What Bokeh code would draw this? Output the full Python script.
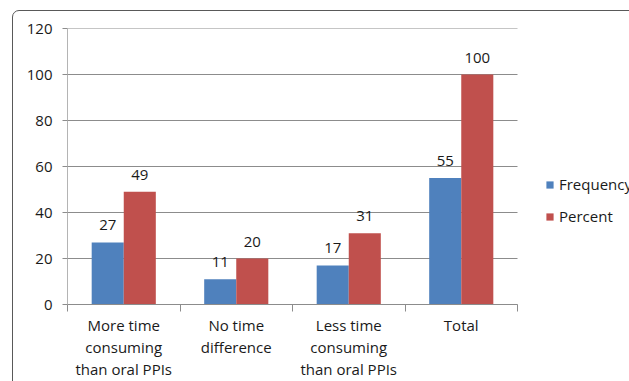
import numpy as np
from bokeh.plotting import figure
from bokeh.models import (ColumnDataSource, Range1d, FixedTicker, Legend, LegendItem,
                          InlineStyleSheet)
from bokeh.core.properties import value
from bokeh.embed import file_html
from bokeh.resources import INLINE

# Survey results: perceived administration time of IV vs oral PPIs
categories = ["More time\nconsuming\nthan oral PPIs", "No time\ndifference",
              "Less time\nconsuming\nthan oral PPIs", "Total"]
frequency = [27, 11, 17, 55]
percent = [49, 20, 31, 100]
y_ticks = [0, 20, 40, 60, 80, 100, 120]

FONT = "Open Sans"
TEXT_COLOR = "#1a1a1a"
BLUE = "#4F81BD"
RED = "#C0504D"
GRID = "#8c8c8c"
AXIS = "#b4b4b4"

# layout: the bar area is PLOT_W px wide; the frame continues to the right
# edge of the canvas so the legend can sit beside the bars
LEFT, TOP, BOTTOM = 67, 28, 77
W, H = 629, 381
PLOT_W = 450
FRAME_W = W - LEFT

n = len(categories)
centers = np.arange(n) + 0.5
bar_w = 0.285

src = ColumnDataSource(dict(
    xf=centers - bar_w / 2, xp=centers + bar_w / 2,
    freq=frequency, pct=percent,
    freq_txt=[str(v) for v in frequency], pct_txt=[str(v) for v in percent],
))

p = figure(width=W, height=H, output_backend="svg", toolbar_location=None,
           x_range=Range1d(0, n * FRAME_W / PLOT_W), y_range=Range1d(0, 120),
           min_border_left=LEFT, min_border_right=0, min_border_top=TOP,
           min_border_bottom=BOTTOM)
p.outline_line_color = None
p.background_fill_color = "white"
p.border_fill_color = "white"
p.xgrid.grid_line_color = None
p.ygrid.grid_line_color = None

# horizontal gridlines across the bar area only
p.segment(x0=[0] * len(y_ticks), x1=[n] * len(y_ticks), y0=y_ticks, y1=y_ticks,
          line_color=GRID, line_width=1)

rf = p.vbar(x="xf", top="freq", width=bar_w, source=src, fill_color=BLUE, line_color=None)
rp = p.vbar(x="xp", top="pct", width=bar_w, source=src, fill_color=RED, line_color=None)

# value labels above each bar
for xcol, tcol, ycol in (("xf", "freq_txt", "freq"), ("xp", "pct_txt", "pct")):
    p.text(x=xcol, y=ycol, text=tcol, source=src, text_align="center",
           text_baseline="alphabetic", y_offset=-17, text_font=value(FONT),
           text_font_size="15px", text_color=TEXT_COLOR)

# y axis
p.yaxis.ticker = FixedTicker(ticks=y_ticks)
p.yaxis.axis_line_color = AXIS
p.yaxis.major_tick_line_color = GRID
p.yaxis.major_tick_out = 5
p.yaxis.major_tick_in = 0
p.yaxis.minor_tick_line_color = None
p.yaxis.major_label_standoff = 10
p.yaxis.major_label_text_font = FONT
p.yaxis.major_label_text_font_size = "15px"
p.yaxis.major_label_text_color = TEXT_COLOR

# x axis: tick marks on category boundaries, labels at category centres
p.xaxis.bounds = (0, n)
p.xaxis.ticker = FixedTicker(ticks=list(centers), minor_ticks=list(range(n + 1)))
p.xaxis.major_label_overrides = {float(c): lab for c, lab in zip(centers, categories)}
p.xaxis.axis_line_color = GRID
p.xaxis.major_tick_out = 0
p.xaxis.major_tick_in = 0
p.xaxis.minor_tick_out = 7
p.xaxis.minor_tick_in = 0
p.xaxis.minor_tick_line_color = GRID
p.xaxis.major_label_standoff = 3
p.xaxis.major_label_text_font = FONT
p.xaxis.major_label_text_font_size = "15px"
p.xaxis.major_label_text_line_height = 1.1
p.xaxis.major_label_text_color = TEXT_COLOR

legend = Legend(items=[LegendItem(label="Frequency", renderers=[rf]),
                       LegendItem(label="Percent", renderers=[rp])],
                location=(PLOT_W + 28, 78), padding=0, margin=0, spacing=12,
                glyph_width=9, glyph_height=9, label_height=20,
                label_standoff=5, border_line_color=None,
                background_fill_alpha=0,
                label_text_font=FONT, label_text_font_size="15px",
                label_text_color=TEXT_COLOR)
p.add_layout(legend)

# rounded chart-area border, running off the right and bottom edges
p.stylesheets = [InlineStyleSheet(css="""
:host { position: relative; overflow: hidden; }
:host::after {
  content: ""; position: absolute; left: 12px; top: 10px;
  width: 700px; height: 500px; border: 1.5px solid #595959;
  border-radius: 7px; pointer-events: none; box-sizing: border-box;
}
""")]

open("out.html", "w").write(file_html(p, INLINE))
